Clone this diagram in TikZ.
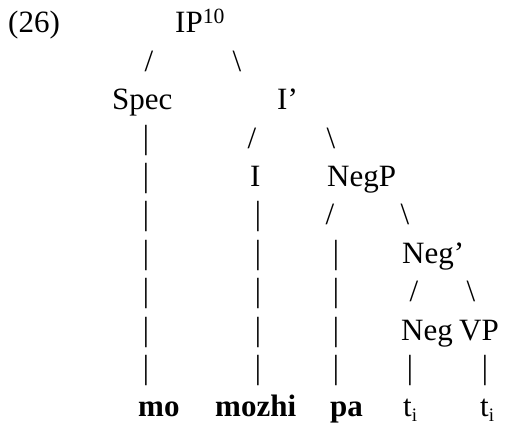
\documentclass[tikz,border=0pt]{standalone}
\usepackage{fontspec}
\setmainfont{Liberation Serif}
\newcommand{\trace}{t\raisebox{-4.5pt}{\fontsize{19}{19}\selectfont i}}
\newcommand{\treebar}{\scalebox{1}[1.08]{|}}
\begin{document}
\begin{tikzpicture}[
    x=1pt,y=-38.4pt,
    cat/.style={anchor=base west,inner sep=0pt,font=\fontsize{31}{36}\selectfont},
    word/.style={cat,font=\fontsize{31}{36}\selectfont\bfseries},
    branch/.style={anchor=base,inner sep=0pt,font=\fontsize{31}{36}\selectfont}
]
\useasboundingbox[fill=white] (0,-0.859) rectangle (517,10.208);

% Example number and root
\node[cat] (ex-num) at (8,0) {(26)};
\node[cat] (ip) at (175,0) {IP\textsuperscript{10}};
\node[branch] (ip-l) at (149,1) {/};
\node[branch] (ip-r) at (237,1) {\textbackslash};

% Spec and I'
\node[cat] (spec) at (112,2) {Spec};
\node[cat] (ibar) at (277,2) {I’};
\node[branch] (ibar-l) at (252,3) {/};
\node[branch] (ibar-r) at (331,3) {\textbackslash};

% I and NegP
\node[cat] (infl) at (250,4) {I};
\node[cat] (negp) at (327,4) {NegP};
\node[branch] (negp-l) at (330,5) {/};
\node[branch] (negp-r) at (405,5) {\textbackslash};

% Neg' and its daughters
\node[cat] (negbar) at (402,6) {Neg’};
\node[branch] (negbar-l) at (414,7) {/};
\node[branch] (negbar-r) at (471,7) {\textbackslash};
\node[cat] (neg) at (401,8) {Neg};
\node[cat] (vp) at (459,8) {VP};

% Vertical bars down to the words
\foreach \r in {3,...,9} \node[branch] (spec-bar-\r) at (146,\r) {\treebar};
\foreach \r in {5,...,9} \node[branch] (infl-bar-\r) at (258,\r) {\treebar};
\foreach \r in {6,...,9} \node[branch] (pa-bar-\r) at (336,\r) {\treebar};
\node[branch] (neg-bar) at (410,9) {\treebar};
\node[branch] (vp-bar) at (485,9) {\treebar};

% Words
\node[word] (mo) at (138,10) {mo};
\node[word] (mozhi) at (215,10) {mozhi};
\node[word] (pa) at (330,10) {pa};
\node[cat] (trace-neg) at (403,10) {\trace};
\node[cat] (trace-vp) at (480,10) {\trace};

\end{tikzpicture}
\end{document}
